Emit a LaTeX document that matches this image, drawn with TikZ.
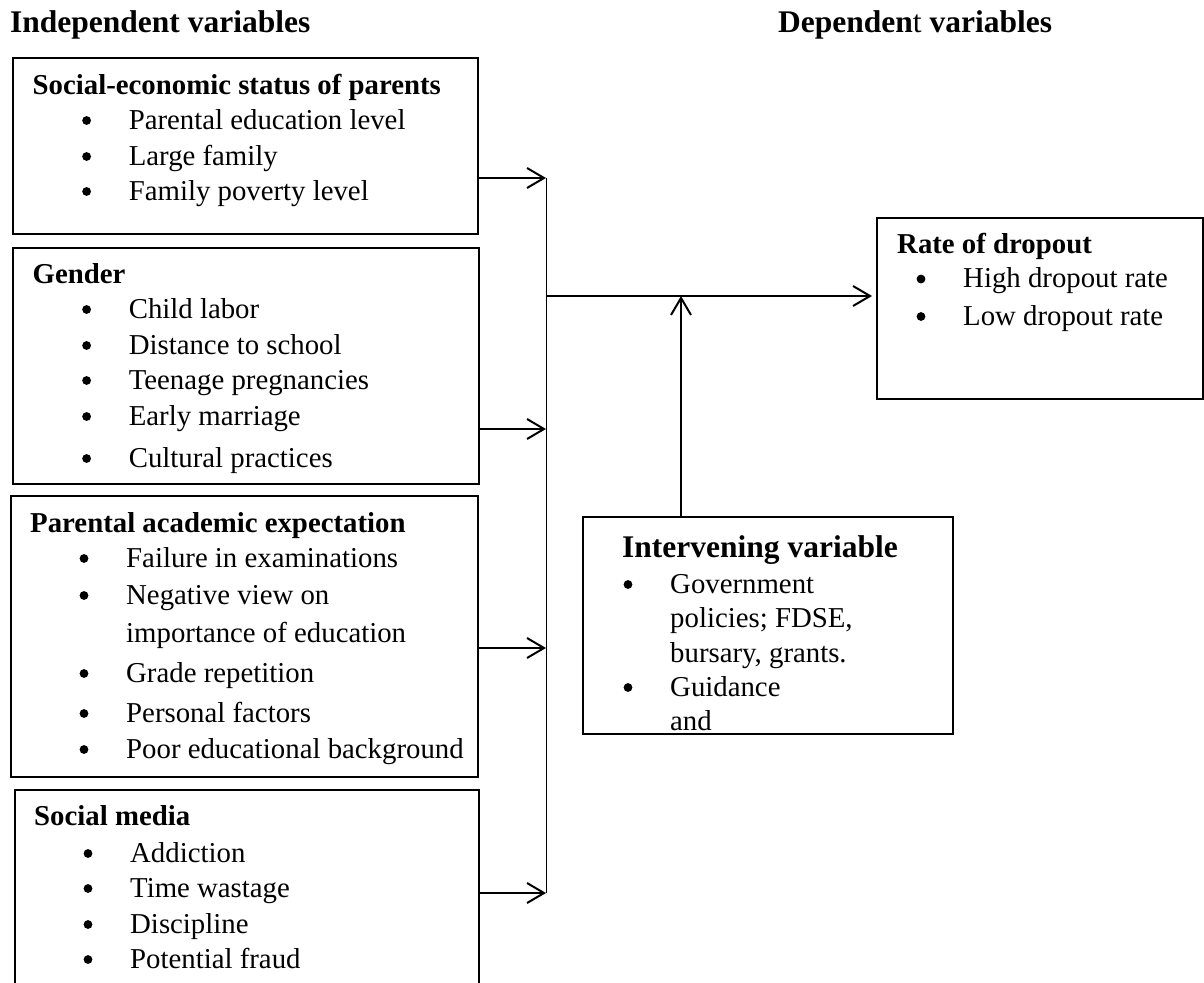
\documentclass[tikz,border=0pt]{standalone}
\usepackage{fontspec}
\setmainfont{Liberation Serif}
\usetikzlibrary{arrows.meta}
\tikzset{
  box/.style={draw, line width=2pt, inner sep=0pt, anchor=north west},
  txt/.style={inner sep=0pt, anchor=base west, font=\fontsize{28.8}{34}\selectfont},
  hd/.style={txt, font=\bfseries\fontsize{28.8}{34}\selectfont},
  big/.style={txt, font=\bfseries\fontsize{31.5}{36}\selectfont},
  arr/.style={line width=2pt, -{Straight Barb[length=17pt,width=20pt,line width=2pt]}},
  vline/.style={line width=1pt}
}
\newcommand\itm[4]{\fill ({#2-42},{#3-8.5}) circle[radius=4.4pt]; \node[txt] (#1) at (#2,#3) {#4};}
\begin{document}
\begin{tikzpicture}[x=1pt,y=-1pt]
\useasboundingbox (0,0) rectangle (1204,982);
\clip (0,0) rectangle (1204,982);
% top headings
\node[big] (indep) at (10,33) {Independent variables};
\node[big] (dep) at (778,33) {Dependen\textmd{t} variables};
% boxes
\node[box, minimum width=465pt, minimum height=176pt] (ses) at (12,57) {};
\node[box, minimum width=466pt, minimum height=236pt] (gen) at (12,247) {};
\node[box, minimum width=466.5pt, minimum height=281pt] (par) at (10,495) {};
\node[box, minimum width=464pt, minimum height=230pt] (soc) at (14,789) {};
\node[box, minimum width=326pt, minimum height=181pt] (rate) at (876,217) {};
\node[box, minimum width=370pt, minimum height=217pt] (inter) at (582,516) {};
% SES
\node[hd] (sesh) at (32.5,94) {Social-economic status of parents};
\itm{s1}{128.6}{129}{Parental education level}
\itm{s2}{128.6}{165}{Large family}
\itm{s3}{128.6}{200}{Family poverty level}
% Gender
\node[hd] (genh) at (32.5,283) {Gender};
\itm{g1}{128.6}{318}{Child labor}
\itm{g2}{128.6}{354}{Distance to school}
\itm{g3}{128.6}{389}{Teenage pregnancies}
\itm{g4}{128.6}{425}{Early marriage}
\itm{g5}{128.6}{467}{Cultural practices}
% Parental
\node[hd] (parh) at (30,532) {Parental academic expectation};
\itm{p1}{126}{567}{Failure in examinations}
\itm{p2}{126}{604}{Negative view on}
\node[txt] (p2b) at (126,642) {importance of education};
\itm{p3}{126}{682}{Grade repetition}
\itm{p4}{126}{722}{Personal factors}
\itm{p5}{126}{758}{Poor educational background}
% Social media
\node[hd] (soch) at (34,825) {Social media};
\itm{m1}{130}{862}{Addiction}
\itm{m2}{130}{897}{Time wastage}
\itm{m3}{130}{933}{Discipline}
\itm{m4}{130}{968}{Potential fraud}
% Rate
\node[hd] (rateh) at (897,253) {Rate of dropout};
\itm{r1}{963}{287.5}{High dropout rate}
\itm{r2}{963}{325}{Low dropout rate}
% Intervening
\node[big] (interh) at (622,557) {Intervening variable};
\itm{i1}{670}{593}{Government}
\node[txt] (i1b) at (670,627.5) {policies; FDSE,};
\node[txt] (i1c) at (670,662) {bursary, grants.};
\itm{i2}{670}{696}{Guidance}
\node[txt] (i2b) at (670,730) {and};
% connectors
\coordinate (v1) at (546,178);
\coordinate (v2) at (546,429);
\coordinate (v3) at (546,648);
\coordinate (v4) at (546,893);
\coordinate (vm) at (546,296);
\coordinate (ia) at (681,296);
\draw[vline] (v1) -- (v4);
\draw[arr] (ses.east |- v1) -- (v1);
\draw[arr] (gen.east |- v2) -- (v2);
\draw[arr] (par.east |- v3) -- (v3);
\draw[arr] (soc.east |- v4) -- (v4);
\draw[arr, shorten >=4pt] (vm) -- (rate.west |- vm);
\draw[arr] (inter.north -| ia) -- (ia);
\end{tikzpicture}
\end{document}
